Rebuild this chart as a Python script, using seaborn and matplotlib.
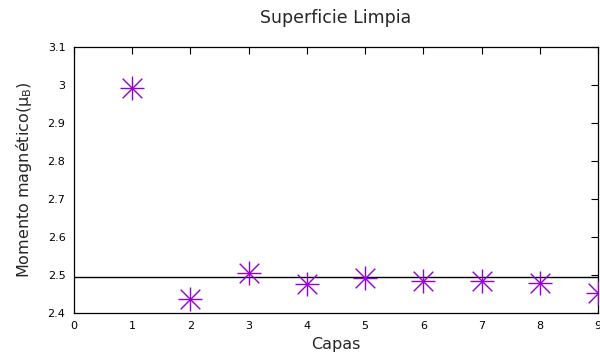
import matplotlib
matplotlib.use('Agg')
import matplotlib.pyplot as plt
import seaborn as sns
import pandas as pd

# data
capas = [1, 2, 3, 4, 5, 6, 7, 8, 9]
momento = [2.992, 2.437, 2.505, 2.476, 2.492, 2.484, 2.484, 2.479, 2.453]
referencia = 2.495
xticks = [0, 1, 2, 3, 4, 5, 6, 7, 8, 9]
yticks = [2.4, 2.5, 2.6, 2.7, 2.8, 2.9, 3.0, 3.1]
ylabels = ['2.4', '2.5', '2.6', '2.7', '2.8', '2.9', '3', '3.1']

sns.set_style('white')
plt.rcParams['font.family'] = ['DejaVu Sans']

df = pd.DataFrame({'Capas': capas, 'Momento': momento})

fig = plt.figure(figsize=(6, 3.62), dpi=100)
ax = fig.add_axes([0.123, 0.135, 0.874, 0.735])

color = '#9400d3'
sns.scatterplot(data=df, x='Capas', y='Momento', marker='+', s=280, color=color,
                linewidth=1.0, ax=ax, zorder=3)
sns.scatterplot(data=df, x='Capas', y='Momento', marker='x', s=200, color=color,
                linewidth=1.0, ax=ax, zorder=3)
ax.axhline(referencia, color='black', linewidth=1.0, zorder=2)

ax.set_xlim(0, 9)
ax.set_ylim(2.4, 3.1)
ax.set_xticks(xticks)
ax.set_yticks(yticks)
ax.set_yticklabels(ylabels)
ax.tick_params(direction='in', length=5, width=0.8, labelsize=8, colors='black',
               top=True, right=True, pad=6)
for s in ax.spines.values():
    s.set_color('black')
    s.set_linewidth(0.9)

ax.set_xlabel('Capas', fontsize=11.5)
ax.set_ylabel(r'Momento magnético($\mathregular{\mu_B}$)', fontsize=11.5, labelpad=10)
ax.set_title('Superficie Limpia', fontsize=12.5, pad=17)

fig.savefig('out.png', dpi=100)
